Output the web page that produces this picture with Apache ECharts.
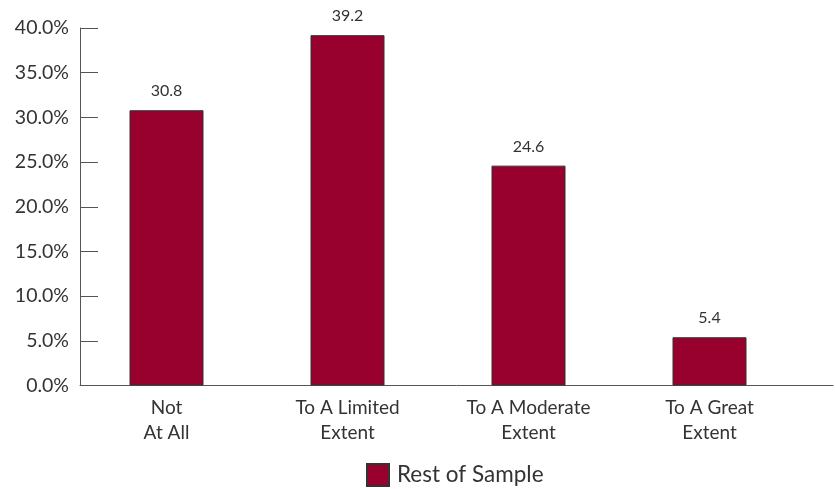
<!DOCTYPE html>
<html>
<head>
<meta charset="utf-8">
<script src="https://cdn.jsdelivr.net/npm/echarts@6/dist/echarts.min.js"></script>
<style>
  html, body { margin: 0; padding: 0; background: #fff; }
  #chart { width: 835px; height: 489px; }
</style>
</head>
<body>
<div id="chart"></div>
<script>
// Share of respondents by extent
const categories = ['Not\nAt All', 'To A Limited\nExtent', 'To A Moderate\nExtent', 'To A Great\nExtent'];
const restOfSample = [30.8, 39.2, 24.6, 5.4];
const seriesName = 'Rest of Sample';
const yTicks = [0, 5, 10, 15, 20, 25, 30, 35, 40];

const FONT = 'Lato';
const TEXT = '#333333';
const BAR = '#98002E';

const chart = echarts.init(document.getElementById('chart'), null, { renderer: 'canvas' });

const yMin = yTicks[0];
const yMax = yTicks[yTicks.length - 1];
const yStep = yTicks[1] - yTicks[0];

chart.setOption({
  animation: false,
  backgroundColor: '#ffffff',
  legend: {
    data: [seriesName],
    left: 361,
    top: 458,
    itemWidth: 22,
    itemHeight: 22,
    itemGap: 10,
    textStyle: { fontFamily: FONT, fontSize: 22.5, color: TEXT, padding: [0, 0, 0, 3] },
    icon: 'rect'
  },
  grid: [
    // bars
    { left: 76, right: 35, top: 28, bottom: 103.5 },
    // axes frame
    { left: 80, right: 2, top: 28, bottom: 103.5 }
  ],
  xAxis: [
    {
      type: 'category',
      gridIndex: 0,
      data: categories,
      axisLine: { show: false },
      axisTick: { show: false },
      axisLabel: {
        fontFamily: FONT, fontSize: 19, color: TEXT,
        lineHeight: 25, margin: 10, interval: 0
      }
    },
    {
      type: 'value',
      gridIndex: 1,
      min: 0, max: 1,
      axisLine: { show: true, lineStyle: { color: '#555555', width: 1 } },
      axisTick: { show: false },
      axisLabel: { show: false },
      splitLine: { show: false }
    }
  ],
  yAxis: [
    {
      type: 'value',
      gridIndex: 0,
      min: yMin, max: yMax, interval: yStep,
      show: false,
      splitLine: { show: false }
    },
    {
      type: 'value',
      gridIndex: 1,
      min: yMin, max: yMax, interval: yStep,
      axisLine: { show: true, lineStyle: { color: '#555555', width: 1 } },
      axisTick: { show: true, inside: true, length: 18, lineStyle: { color: '#555555', width: 1 } },
      axisLabel: {
        fontFamily: FONT, fontSize: 19.5, color: TEXT, margin: 11,
        formatter: v => v.toFixed(1) + '%'
      },
      splitLine: { show: false }
    }
  ],
  series: [
    {
      name: seriesName,
      type: 'bar',
      xAxisIndex: 0,
      yAxisIndex: 0,
      data: restOfSample,
      barWidth: 74,
      itemStyle: { color: BAR, borderColor: '#333333', borderWidth: 1 },
      label: {
        show: true,
        position: 'top',
        distance: 11,
        fontFamily: FONT, fontSize: 16, color: TEXT,
        formatter: p => p.value.toFixed(1)
      }
    }
  ]
});
</script>
</body>
</html>
